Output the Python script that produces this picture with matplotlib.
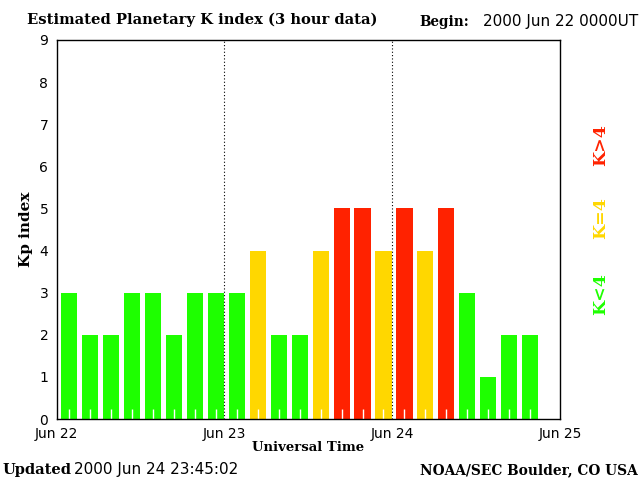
import matplotlib
matplotlib.use("Agg")
import matplotlib.pyplot as plt
import numpy as np

# Data
kp_values = [3, 2, 2, 3, 3, 2, 3, 3,
             3, 4, 2, 2, 4, 5, 5, 4,
             5, 4, 5, 3, 1, 2, 2]
day_labels = ["Jun 22", "Jun 23", "Jun 24", "Jun 25"]
y_ticks = list(range(0, 10))

GREEN = "#1eff00"
YELLOW = "#ffd700"
RED = "#ff2200"

def kcolor(k):
    if k < 4:
        return GREEN
    if k == 4:
        return YELLOW
    return RED

fig = plt.figure(figsize=(6.4, 4.8), dpi=100)
ax = fig.add_axes([0.0886, 0.127, 0.7864, 0.7897])

hours = np.arange(len(kp_values)) * 3 + 1.75
ax.bar(hours, kp_values, width=2.3, color=[kcolor(k) for k in kp_values],
       linewidth=0, zorder=1)

ax.set_xlim(0, 72)
ax.set_ylim(0, 9)
ax.set_xticks([0, 24, 48, 72])
ax.set_xticklabels(day_labels, fontsize=10, family="DejaVu Sans")
ax.set_yticks(y_ticks)
ax.set_yticklabels([str(v) for v in y_ticks], fontsize=10, family="DejaVu Sans")
ax.tick_params(axis="both", length=0, pad=6)
ax.set_xticks(hours, minor=True)
ax.tick_params(axis="x", which="minor", direction="in", length=7, width=1,
               color="white")

for d in (24, 48):
    ax.axvline(d, color="black", linestyle=(0, (1, 2)), linewidth=0.8, zorder=3)

for s in ax.spines.values():
    s.set_linewidth(1.0)

serif = "DejaVu Serif"
ax.set_xlabel("Universal Time", family=serif, fontweight="bold", fontsize=9.5,
              labelpad=0)
ax.set_ylabel("Kp index", family=serif, fontweight="bold", fontsize=11,
              labelpad=5)

fig.text(27/640, 1-24/480, "Estimated Planetary K index (3 hour data)",
         family=serif, fontweight="bold", fontsize=10.6, ha="left", va="baseline")
fig.text(419/640, 1-26/480, "Begin:", family=serif, fontweight="bold",
         fontsize=9.8, ha="left", va="baseline")
fig.text(483/640, 1-26/480, "2000 Jun 22 0000UT", family="DejaVu Sans",
         fontsize=11, ha="left", va="baseline")

fig.text(2/640, 1-474/480, "Updated", family=serif, fontweight="bold",
         fontsize=10.5, ha="left", va="baseline")
fig.text(74/640, 1-474/480, "2000 Jun 24 23:45:02", family="DejaVu Sans",
         fontsize=11, ha="left", va="baseline")
fig.text(638/640, 1-474/480, "NOAA/SEC Boulder, CO USA", family=serif,
         fontweight="bold", fontsize=9.9, ha="right", va="baseline")

fig.text(601/640, 1-145/480, "K>4", color=RED, rotation=90, family=serif,
         fontweight="bold", fontsize=12.5, ha="center", va="center")
fig.text(601/640, 1-218/480, "K=4", color=YELLOW, rotation=90, family=serif,
         fontweight="bold", fontsize=12.5, ha="center", va="center")
fig.text(601/640, 1-294/480, "K<4", color=GREEN, rotation=90, family=serif,
         fontweight="bold", fontsize=12.5, ha="center", va="center")

fig.savefig("out.png", dpi=100)
